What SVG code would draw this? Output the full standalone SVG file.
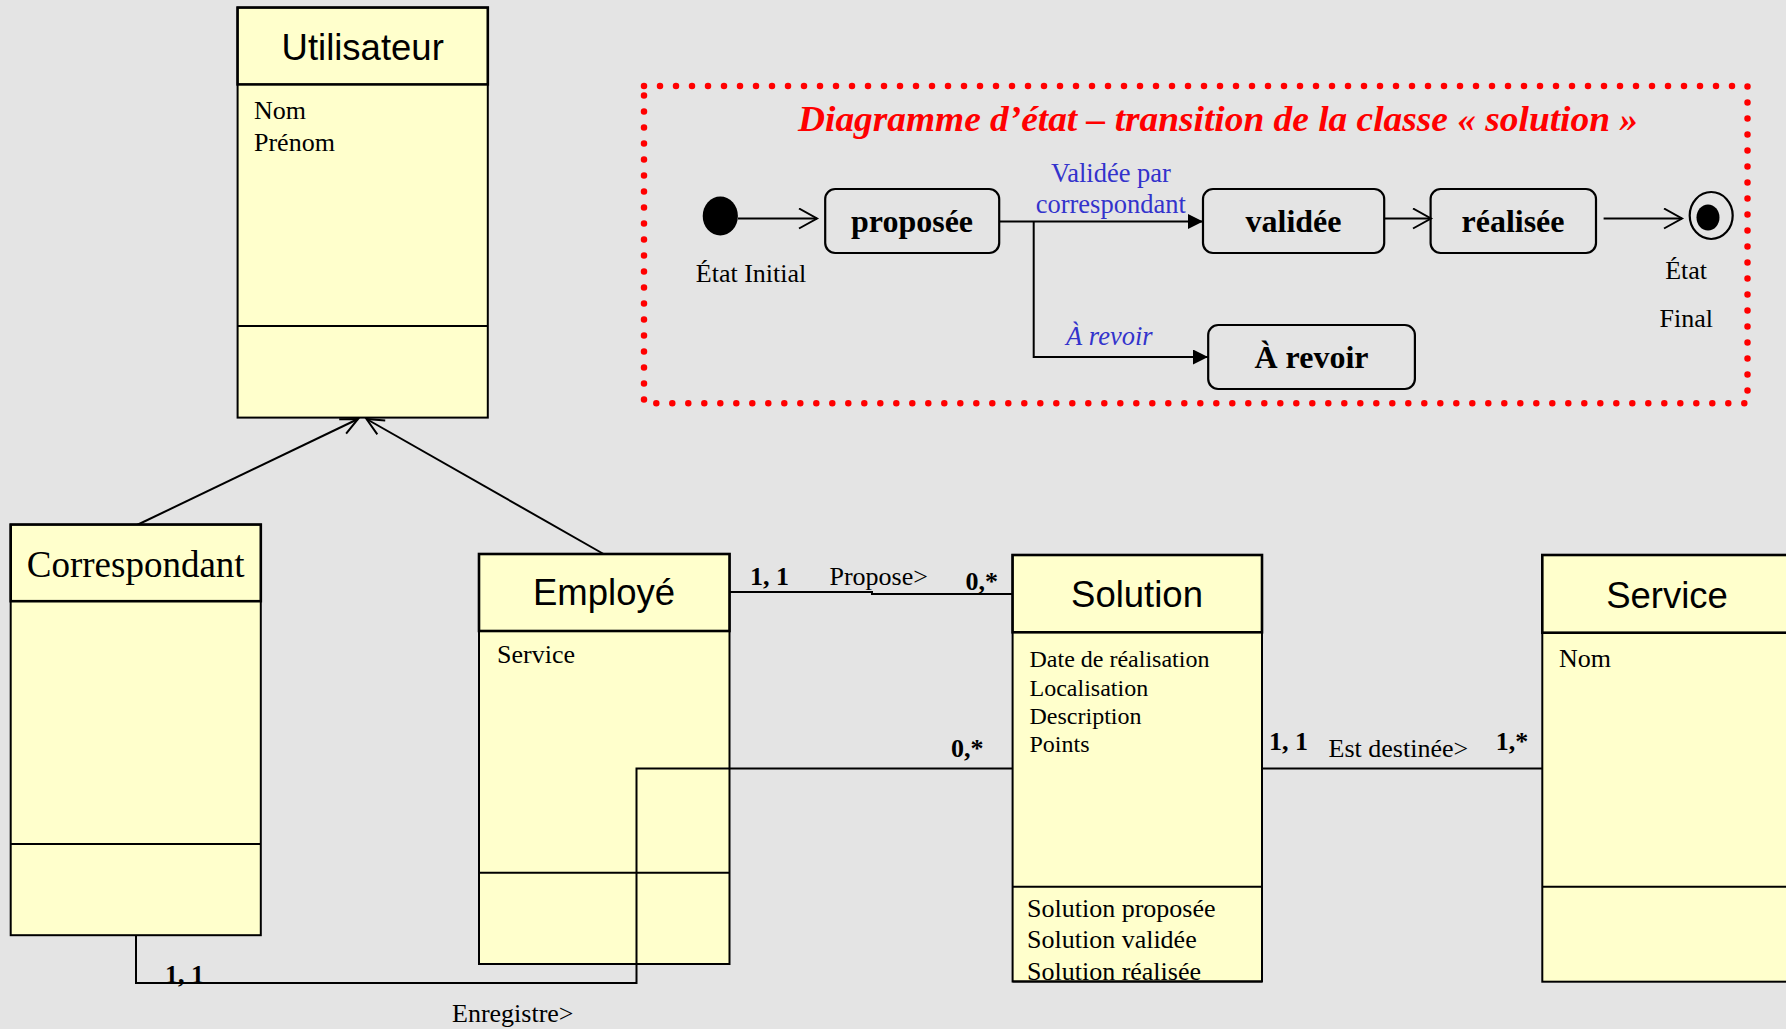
<svg xmlns="http://www.w3.org/2000/svg" width="1786" height="1029" viewBox="0 0 1786 1029">
  <style>
    .cls { fill: #FFFFCC; stroke: #000; stroke-width: 2; }
    .hdr { fill: #FFFFCC; stroke: #000; stroke-width: 2.6; }
    .sep { stroke: #000; stroke-width: 2; }
    .name { font-family: "Liberation Sans", Arial, sans-serif; font-size: 36.5px; text-anchor: middle; fill: #000; }
    .attr { font-family: "Liberation Serif", "Times New Roman", serif; font-size: 26px; fill: #000; }
    .attr24 { font-family: "Liberation Serif", "Times New Roman", serif; font-size: 24px; fill: #000; }
    .mult { font-family: "Liberation Serif", "Times New Roman", serif; font-size: 26px; font-weight: bold; fill: #000; }
    .lbl { font-family: "Liberation Serif", "Times New Roman", serif; font-size: 26px; fill: #000; }
    .wire { fill: none; stroke: #000; stroke-width: 2; }
    .state { fill: none; stroke: #000; stroke-width: 2.2; }
    .sname { font-family: "Liberation Serif", "Times New Roman", serif; font-size: 32px; font-weight: bold; text-anchor: middle; fill: #000; }
    .event { font-family: "Liberation Serif", "Times New Roman", serif; font-size: 26.5px; fill: #3333CC; }
  </style>
  <defs>
    <marker id="open" markerUnits="userSpaceOnUse" markerWidth="22" markerHeight="24" refX="19" refY="10.5" orient="auto">
      <path d="M1,0.5 L19,10.5 L1,20.5" fill="none" stroke="#000" stroke-width="2"/>
    </marker>
    <marker id="inh" markerUnits="userSpaceOnUse" markerWidth="22" markerHeight="22" refX="18" refY="9" orient="auto">
      <path d="M1,1 L18,9 L1,17" fill="none" stroke="#000" stroke-width="2"/>
    </marker>
    <marker id="solid" markerUnits="userSpaceOnUse" markerWidth="18" markerHeight="18" refX="15" refY="7.5" orient="auto">
      <path d="M0,0 L15,7.5 L0,15 Z" fill="#000"/>
    </marker>
  </defs>

  <rect width="1786" height="1029" fill="#E4E4E4"/>

  <!-- class diagram connectors -->
  <g id="connectors">
    <line class="wire" x1="137" y1="525" x2="358" y2="419" marker-end="url(#inh)"/>
    <line class="wire" x1="603.6" y1="554" x2="366.5" y2="419" marker-end="url(#inh)"/>
    <polyline class="wire" points="729,592 872,592 872,594 1012,594"/>
    <line class="wire" x1="1262" y1="768.5" x2="1542" y2="768.5"/>
  </g>

  <!-- classes -->
  <g id="utilisateur">
    <rect class="cls" x="237.6" y="7.6" width="250.2" height="410"/>
    <rect class="hdr" x="237.6" y="7.6" width="250.2" height="76.8"/>
    <line class="sep" x1="237.6" y1="326" x2="487.8" y2="326"/>
    <text class="name" x="362.7" y="60">Utilisateur</text>
    <text class="attr" x="254" y="119">Nom</text>
    <text class="attr" x="254" y="150.5">Prénom</text>
  </g>

  <g id="correspondant">
    <rect class="cls" x="10.7" y="524.6" width="250.1" height="410.6"/>
    <rect class="hdr" x="10.7" y="524.6" width="250.1" height="76.6"/>
    <line class="sep" x1="10.7" y1="844" x2="260.8" y2="844"/>
    <text x="135.7" y="577" font-family="'Liberation Serif', 'Times New Roman', serif" font-size="37" text-anchor="middle">Correspondant</text>
  </g>

  <g id="employe">
    <rect class="cls" x="479" y="554" width="250.5" height="410"/>
    <rect class="hdr" x="479" y="554" width="250.5" height="77"/>
    <line class="sep" x1="479" y1="872.8" x2="729.5" y2="872.8"/>
    <text class="name" x="604" y="605">Employé</text>
    <text class="attr" x="497" y="662.6">Service</text>
  </g>

  <g id="solution">
    <rect class="cls" x="1012.6" y="555" width="249.4" height="426.5"/>
    <rect class="hdr" x="1012.6" y="555" width="249.4" height="77.3"/>
    <line class="sep" x1="1012.6" y1="886.7" x2="1262" y2="886.7"/>
    <text class="name" x="1137" y="607">Solution</text>
    <text class="attr24" x="1029.5" y="666.7">Date de réalisation</text>
    <text class="attr24" x="1029.5" y="695.7">Localisation</text>
    <text class="attr24" x="1029.5" y="724">Description</text>
    <text class="attr24" x="1029.5" y="752.3">Points</text>
    <text class="attr" x="1027" y="916.7">Solution proposée</text>
    <text class="attr" x="1027" y="948.3">Solution validée</text>
    <text class="attr" x="1027" y="980">Solution réalisée</text>
    <line class="sep" x1="1012.6" y1="981.5" x2="1262" y2="981.5"/>
  </g>

  <g id="service">
    <rect class="cls" x="1542.3" y="555" width="250" height="426.7"/>
    <rect class="hdr" x="1542.3" y="555" width="250" height="77.7"/>
    <line class="sep" x1="1542.3" y1="886.7" x2="1792" y2="886.7"/>
    <text class="name" x="1667" y="608">Service</text>
    <text class="attr" x="1559" y="666.7">Nom</text>
  </g>

  <!-- "Enregistre" association runs over the Employé box -->
  <g id="connectors-over">
    <polyline class="wire" points="136,935 136,983 636.5,983 636.5,768.5 1012,768.5"/>
  </g>

  <!-- association labels -->
  <g id="labels">
    <text class="mult" x="750" y="585">1, 1</text>
    <text class="lbl" x="829.5" y="585">Propose&gt;</text>
    <text class="mult" x="965.6" y="590">0,*</text>
    <text class="mult" x="951" y="756.7">0,*</text>
    <text class="mult" x="1269" y="750">1, 1</text>
    <text class="lbl" x="1328.6" y="756.7">Est destinée&gt;</text>
    <text class="mult" x="1495.7" y="750">1,*</text>
    <text class="mult" x="165" y="983">1, 1</text>
    <text class="lbl" x="452" y="1022">Enregistre&gt;</text>
  </g>

  <!-- state-transition diagram frame -->
  <g id="state-frame">
    <rect x="644" y="86" width="1103.5" height="317.3" fill="none" stroke="#FF0000" stroke-width="6.5" stroke-linecap="round" stroke-dasharray="0 16"/>
    <text x="798" y="131" font-family="'Liberation Serif', 'Times New Roman', serif" font-size="35" font-weight="bold" font-style="italic" fill="#FF0000" textLength="840" lengthAdjust="spacingAndGlyphs">Diagramme d’état – transition de la classe « solution »</text>
  </g>

  <g id="state-transitions">
    <line class="wire" x1="738" y1="218.5" x2="817" y2="218.5" marker-end="url(#open)"/>
    <line class="wire" x1="999" y1="221.5" x2="1203" y2="221.5" marker-end="url(#solid)"/>
    <polyline class="wire" points="1033.7,221.5 1033.7,357 1208,357" marker-end="url(#solid)"/>
    <line class="wire" x1="1384" y1="218.5" x2="1431" y2="218.5" marker-end="url(#open)"/>
    <line class="wire" x1="1603.6" y1="218.5" x2="1682" y2="218.5" marker-end="url(#open)"/>
    <text class="event" x="1051" y="181.7">Validée par</text>
    <text class="event" x="1035.7" y="213.3">correspondant</text>
    <text class="event" x="1066" y="345" font-style="italic">À revoir</text>
  </g>

  <g id="etat-initial">
    <ellipse cx="720.3" cy="216" rx="17.6" ry="19.5" fill="#000"/>
    <text class="lbl" x="695.8" y="281.7">État Initial</text>
  </g>

  <g id="proposee">
    <rect class="state" x="825.2" y="189" width="174" height="64" rx="10"/>
    <text class="sname" x="912" y="231.7">proposée</text>
  </g>

  <g id="validee">
    <rect class="state" x="1203" y="189" width="181.2" height="64" rx="10"/>
    <text class="sname" x="1293.5" y="231.7">validée</text>
  </g>

  <g id="realisee">
    <rect class="state" x="1430.6" y="189" width="165.4" height="64" rx="10"/>
    <text class="sname" x="1513" y="231.7">réalisée</text>
  </g>

  <g id="a-revoir">
    <rect class="state" x="1208.2" y="325" width="206.7" height="64" rx="10"/>
    <text class="sname" x="1311.5" y="367.7">À revoir</text>
  </g>

  <g id="etat-final">
    <ellipse cx="1711.2" cy="215.5" rx="21.5" ry="23.5" fill="none" stroke="#000" stroke-width="2.2"/>
    <ellipse cx="1708" cy="217.5" rx="11.5" ry="13" fill="#000"/>
    <text class="lbl" x="1665.2" y="279.3">État</text>
    <text class="lbl" x="1659.6" y="326.7">Final</text>
  </g>
</svg>
